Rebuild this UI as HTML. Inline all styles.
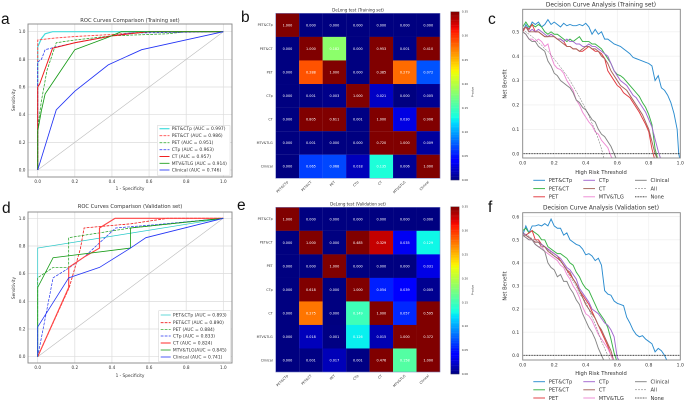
<!DOCTYPE html>
<html lang="en">
<head>
<meta charset="utf-8">
<title>ROC, DeLong and Decision Curve Analysis</title>
<style>
html,body{margin:0;padding:0;background:#fff;}
body{width:685px;height:401px;overflow:hidden;}
svg{display:block;filter:blur(0.38px);font-family:"DejaVu Sans","Liberation Sans",sans-serif;}
text{fill:#333;}
.letter{font-family:"Liberation Sans",sans-serif;font-size:15.5px;fill:#111;}
.roc-title{font-size:5.2px;text-anchor:middle;}
.roc-lab{font-size:4.25px;text-anchor:middle;}
.hm-title{font-size:4px;text-anchor:middle;}
.dca-title{font-size:5.85px;text-anchor:middle;}
.dca-lab{font-size:5.2px;text-anchor:middle;}
</style>
</head>
<body>
<svg id="fig" xmlns="http://www.w3.org/2000/svg" width="685" height="401" viewBox="0 0 685 401">
<rect width="685" height="401" fill="#fff"/>
<text class="letter" x="1" y="24">a</text>
<text class="letter" x="241" y="22">b</text>
<text class="letter" x="488" y="24">c</text>
<text class="letter" x="2" y="213">d</text>
<text class="letter" x="237" y="210">e</text>
<text class="letter" x="488" y="212">f</text>

<text class="roc-title" x="130" y="22">ROC Curves Comparison (Training set)</text>
<text class="roc-lab" x="130" y="190">1 - Specificity</text>
<text class="roc-lab" transform="translate(15,100) rotate(-90)">Sensitivity</text>

<text class="roc-title" x="130" y="208">ROC Curves Comparison (Validation set)</text>
<text class="roc-lab" x="130" y="377">1 - Specificity</text>
<text class="roc-lab" transform="translate(15,288) rotate(-90)">Sensitivity</text>

<text class="hm-title" x="358" y="11.5">DeLong test (Training set)</text>
<text class="hm-title" x="358" y="205.5">DeLong test (Validation set)</text>
<text font-size="2.8" text-anchor="middle" transform="translate(473.5,92) rotate(-90)">P-value</text>
<text font-size="2.8" text-anchor="middle" transform="translate(473.5,290) rotate(-90)">P-value</text>

<text class="dca-title" x="601" y="6.5">Decision Curve Analysis (Training set)</text>
<text class="dca-lab" x="601" y="174">High Risk Threshold</text>
<text class="dca-lab" transform="translate(506.5,84) rotate(-90)">Net Benefit</text>

<text class="dca-title" x="601" y="209.5">Decision Curve Analysis (Validation set)</text>
<text class="dca-lab" x="601" y="375">High Risk Threshold</text>
<text class="dca-lab" transform="translate(506.5,286) rotate(-90)">Net Benefit</text>
</svg>

<script>
/* ---------- shared labels and ticks ---------- */
const models = ["PET&CTp","PET&CT","PET","CTp","CT","MTV&TLG","Clinical"];
const rocTicks = [0,0.2,0.4,0.6,0.8,1.0];
const dcaXTicks = [0,0.2,0.4,0.6,0.8,1.0];
const dcaTrainYTicks = [0,0.1,0.2,0.3,0.4,0.5];
const dcaValYTicks = [0,0.1,0.2,0.3,0.4,0.5,0.6];
const colorbarTicks = [0,0.05,0.10,0.15,0.20,0.25,0.30,0.35];

/* ---------- ROC values: training ---------- */
const rocTrainAuc = ["0.997","0.986","0.951","0.963","0.957","0.914","0.746"];
const rtPetCtpX = [0,0,0.02,0.04,0.08,1];
const rtPetCtpY = [0,0.89,0.95,0.985,1,1];
const rtPetCtX = [0,0,0.1,0.2,0.4,0.6,1];
const rtPetCtY = [0,0.94,0.955,0.965,0.98,1,1];
const rtPetX = [0,0,0.02,0.05,0.1,0.2,0.4,0.7,0.8,1];
const rtPetY = [0,0.3,0.5,0.72,0.92,0.94,0.97,0.985,1,1];
const rtCtpX = [0,0,0.02,0.04,0.1,0.2,0.4,0.5,1];
const rtCtpY = [0,0.78,0.8,0.87,0.89,0.92,0.97,0.99,1];
const rtCtX = [0,0,0.01,0.08,0.2,0.4,0.6,1];
const rtCtY = [0,0.6,0.62,0.88,0.92,0.97,1,1];
const rtMtvX = [0,0,0.02,0.04,0.1,0.2,0.38,0.45,1];
const rtMtvY = [0,0.28,0.43,0.55,0.67,0.87,0.96,1,1];
const rtClinX = [0,0.1,0.2,0.38,0.56,1];
const rtClinY = [0,0.435,0.57,0.76,0.87,1];

/* ---------- ROC values: validation ---------- */
const rocValAuc = ["0.893","0.890","0.884","0.833","0.824","0.845","0.741"];
const rvPetCtpX = [0,0,1];
const rvPetCtpY = [0,0.785,1];
const rvPetCtX = [0,0.17,0.23,0.25,0.33,0.5,0.7,1];
const rvPetCtY = [0,0.5,0.78,0.93,0.94,0.96,1,1];
const rvPetX = [0,0,0.083,0.167,0.167,0.5,1];
const rvPetY = [0,0.57,0.645,0.645,0.86,0.93,1];
const rvCtpX = [0,0.083,0.167,0.25,0.42,0.6,1];
const rvCtpY = [0,0.57,0.64,0.72,0.93,0.95,1];
const rvCtX = [0,0.167,0.167,0.25,0.333,0.333,0.417,1];
const rvCtY = [0,0.5,0.645,0.72,0.785,0.93,1,1];
const rvMtvX = [0,0,0.083,0.5,0.5,1];
const rvMtvY = [0,0.5,0.715,0.785,0.93,1];
const rvClinX = [0,0,0.167,0.333,0.5,0.583,1];
const rvClinY = [0,0.215,0.57,0.645,0.785,0.86,1];

/* ---------- DeLong p-values ---------- */
const delongTrain = [
 [1.000,0.000,0.000,0.000,0.000,0.000,0.000],
 [0.000,1.000,0.182,0.000,0.953,0.001,0.410],
 [0.000,0.288,1.000,0.000,0.385,0.279,0.072],
 [0.000,0.001,0.003,1.000,0.021,0.000,0.005],
 [0.000,0.805,0.611,0.001,1.000,0.030,0.906],
 [0.000,0.001,0.000,0.000,0.720,1.000,0.009],
 [0.000,0.065,0.068,0.018,0.135,0.006,1.000]];
const delongVal = [
 [1.000,0.000,0.000,0.000,0.000,0.000,0.000],
 [0.000,1.000,0.000,0.485,0.329,0.035,0.129],
 [0.000,0.000,1.000,0.000,0.000,0.000,0.031],
 [0.000,0.618,0.000,1.000,0.054,0.039,0.005],
 [0.000,0.275,0.000,0.149,1.000,0.057,0.595],
 [0.000,0.018,0.001,0.126,0.015,1.000,0.372],
 [0.000,0.001,0.017,0.001,0.476,0.158,1.000]];

/* ---------- decision curves: thresholds step 0.02 ---------- */
const thresholds = [0,.02,.04,.06,.08,.10,.12,.14,.16,.18,.20,.22,.24,.26,.28,.30,.32,.34,.36,.38,.40,.42,.44,.46,.48,.50,.52,.54,.56,.58,.60,.62,.64,.66,.68,.70,.72,.74,.76,.78,.80,.82,.84,.86,.88,.90,.92,.94,.96,.98,.99,1.0];

const dtPetCtp = [.50,.53,.51,.54,.53,.54,.52,.53,.55,.53,.54,.53,.52,.535,.525,.53,.525,.525,.53,.525,.535,.52,.49,.51,.49,.50,.47,.47,.46,.45,.445,.44,.43,.42,.41,.395,.39,.385,.38,.375,.37,.36,.30,.32,.27,.26,.24,.21,.165,.10,0,-.03];
const dtPetCt = [.52,.54,.52,.53,.52,.53,.52,.50,.49,.50,.49,.49,.48,.47,.46,.47,.46,.47,.48,.46,.46,.46,.45,.45,.44,.43,.41,.39,.37,.34,.325,.32,.31,.295,.28,.265,.25,.235,.21,.19,.16,.12,.02,-.03];
const dtPet = [.50,.52,.51,.53,.50,.50,.49,.48,.48,.49,.48,.47,.47,.46,.44,.44,.43,.43,.42,.42,.43,.44,.43,.42,.42,.41,.39,.34,.32,.30,.28,.27,.25,.24,.23,.21,.19,.17,.145,.12,.09,.02,-.03];
const dtCtp = [.51,.52,.50,.51,.50,.51,.50,.49,.48,.49,.48,.47,.47,.46,.47,.46,.46,.45,.45,.44,.44,.45,.44,.44,.43,.42,.41,.40,.37,.34,.32,.30,.29,.28,.26,.24,.23,.21,.19,.17,.14,.11,.06,.01,-.03];
const dtCt = [.51,.52,.50,.50,.50,.50,.49,.48,.48,.48,.48,.47,.46,.45,.44,.44,.43,.43,.42,.43,.44,.44,.43,.43,.42,.40,.39,.37,.34,.32,.30,.28,.27,.26,.24,.22,.20,.18,.16,.13,.10,.05,0,-.03];
const dtMtv = [.50,.49,.47,.47,.46,.47,.46,.44,.45,.40,.365,.35,.345,.33,.30,.28,.26,.22,.20,.17,.15,.13,.115,.09,.08,.055,.04,.025,-.01,-.03];
const dtClin = [.50,.49,.47,.46,.46,.44,.43,.42,.38,.36,.33,.32,.30,.29,.28,.27,.25,.22,.21,.19,.18,.16,.14,.13,.10,.08,.07,.05,.03,0,-.03];
const dtAll = [.51,.50,.49,.48,.47,.456,.445,.43,.42,.405,.388,.372,.355,.338,.32,.30,.278,.255,.232,.208,.183,.155,.125,.095,.06,.02,-.03];
const dtNone = [0,0,0,0,0,0,0,0,0,0,0,0,0,0,0,0,0,0,0,0,0,0,0,0,0,0,0,0,0,0,0,0,0,0,0,0,0,0,0,0,0,0,0,0,0,0,0,0,0,0,0,0];

const dvPetCtp = [.52,.56,.53,.56,.56,.565,.56,.57,.56,.59,.56,.55,.55,.52,.53,.50,.49,.48,.475,.46,.435,.44,.43,.41,.42,.39,.28,.265,.26,.235,.225,.22,.215,.165,.14,.11,.09,.08,.085,.07,.06,.05,.015,.03,.02,0,-.03];
const dvPetCt = [.54,.55,.53,.54,.53,.52,.50,.50,.47,.46,.45,.44,.44,.43,.42,.40,.39,.36,.34,.31,.29,.28,.25,.22,.19,.17,.15,.12,.07,.01,-.03];
const dvPet = [.53,.52,.53,.54,.50,.50,.48,.47,.46,.45,.44,.43,.41,.39,.37,.35,.33,.31,.28,.26,.24,.22,.19,.16,.13,.10,.07,.04,0,-.03];
const dvCtp = [.53,.52,.51,.50,.49,.49,.48,.47,.46,.45,.44,.43,.42,.40,.38,.37,.35,.33,.29,.27,.25,.23,.20,.19,.18,.16,.14,.13,.11,.08,-.01,-.03];
const dvCt = [.52,.52,.51,.50,.49,.49,.47,.47,.45,.44,.43,.42,.41,.39,.37,.36,.33,.31,.28,.25,.22,.20,.18,.16,.13,.11,.08,.05,.02,-.03];
const dvMtv = [.52,.51,.50,.50,.48,.47,.47,.45,.44,.43,.42,.41,.39,.38,.35,.33,.30,.28,.25,.21,.18,.17,.15,.12,.09,.07,.05,.03,0,-.03];
const dvClin = [.52,.51,.50,.50,.48,.47,.46,.45,.40,.38,.37,.34,.35,.32,.32,.29,.27,.24,.22,.18,.15,.12,.10,.07,.03,0,-.03];
const dvAll = [.53,.525,.515,.505,.50,.49,.48,.47,.455,.445,.43,.42,.405,.39,.365,.34,.32,.30,.265,.25,.23,.20,.165,.135,.10,.06,.03,0,-.03];
const dvNone = [0,0,0,0,0,0,0,0,0,0,0,0,0,0,0,0,0,0,0,0,0,0,0,0,0,0,0,0,0,0,0,0,0,0,0,0,0,0,0,0,0,0,0,0,0,0,0,0,0,0,0,0];

/* ---------- drawing ---------- */
const NS = "http://www.w3.org/2000/svg";
const fig = document.getElementById("fig");
function mk(tag, parent, props){
  const e = document.createElementNS(NS, tag);
  for (const k in props) e.setAttribute(k, props[k]);
  parent.appendChild(e);
  return e;
}
function label(parent, str, props){
  const e = mk("text", parent, props);
  e.textContent = str;
  return e;
}
function lut(pts, v){
  for (let i = 1; i < pts.length; i++){
    if (v <= pts[i][0]){
      const a = pts[i-1], b = pts[i];
      return a[1] + (b[1] - a[1]) * (v - a[0]) / (b[0] - a[0]);
    }
  }
  return pts[pts.length-1][1];
}
function jet(v){
  const r = lut([[0,0],[.35,0],[.66,1],[.89,1],[1,.5]], v);
  const g = lut([[0,0],[.125,0],[.375,1],[.64,1],[.91,0],[1,0]], v);
  const b = lut([[0,.5],[.11,1],[.34,1],[.65,0],[1,0]], v);
  return "rgb(" + Math.round(r*255) + "," + Math.round(g*255) + "," + Math.round(b*255) + ")";
}
function pathFrom(xs, ys, sx, sy){
  return xs.map((x,i) => (i ? "L" : "M") + sx(x).toFixed(2) + " " + sy(ys[i]).toFixed(2)).join(" ");
}

/* ROC panel */
function drawRoc(name, box, y0px, y1px, series, auc, leg){
  const g = mk("g", fig, {});
  
  
  const sx = v => 37.7 + v * (223.3 - 37.7);
  const sy = v => y0px + v * (y1px - y0px);
  rocTicks.forEach(t => {
    const gx = mk("line", g, {x1:sx(t),x2:sx(t),y1:box.t,y2:box.b,stroke:"#dcdcdc","stroke-width":0.7});
    
    
    const gy = mk("line", g, {x1:box.l,x2:box.r,y1:sy(t),y2:sy(t),stroke:"#dcdcdc","stroke-width":0.7});
    
    
    const tx = label(g, t.toFixed(1), {x:sx(t),y:box.b+6,"font-size":4.2,"text-anchor":"middle"});
    
    
    const ty = label(g, t.toFixed(1), {x:box.l-2.6,y:sy(t)+1.5,"font-size":4.2,"text-anchor":"end"});
    
    
  });
  const diag = mk("line", g, {x1:sx(0),y1:sy(0),x2:sx(1),y2:sy(1),stroke:"#bcbcbc","stroke-width":0.6});
  
  
  series.forEach(s => {
    const p = mk("path", g, {d:pathFrom(s.x,s.y,sx,sy),fill:"none",stroke:s.c,"stroke-width":s.w,"stroke-dasharray":s.dash?"2.8 1.2":"none"});
    
    
  });
  const frame = mk("rect", g, {x:box.l,y:box.t,width:box.r-box.l,height:box.b-box.t,fill:"none",stroke:"#858585","stroke-width":0.9});
  
  
  const lg = mk("g", g, {});
  
  
  mk("rect", lg, {x:leg.x,y:leg.t,width:leg.w,height:leg.h,fill:"#fff",stroke:"#d0d0d0","stroke-width":0.5});
  series.forEach((s,i) => {
    const ly = leg.ys[i];
    const sw = mk("line", lg, {x1:leg.lx,x2:leg.lx+10,y1:ly,y2:ly,stroke:s.c,"stroke-width":s.w,"stroke-dasharray":s.dash?"2.8 1.2":"none"});
    
    
    const txt = label(lg, models[i] + (s.sep === undefined ? " " : s.sep) + "(AUC = " + auc[i] + ")", {x:leg.lx+12.2,y:ly+1.5,"font-size":4.45});
    
    
  });
}

drawRoc("roc-training-chart", {l:28,r:232,t:24,b:177}, 170, 31.7, [
  {id:"petctp",x:rtPetCtpX,y:rtPetCtpY,c:"#45dcdc",w:1.2},
  {id:"petct",x:rtPetCtX,y:rtPetCtY,c:"#ff4a4a",w:0.95,dash:1},
  {id:"pet",x:rtPetX,y:rtPetY,c:"#22a022",w:0.75,dash:1},
  {id:"ctp",x:rtCtpX,y:rtCtpY,c:"#2233f0",w:0.75,dash:1},
  {id:"ct",x:rtCtX,y:rtCtY,c:"#f01818",w:0.95},
  {id:"mtv",x:rtMtvX,y:rtMtvY,c:"#159a15",w:0.85},
  {id:"clinical",x:rtClinX,y:rtClinY,c:"#2233f5",w:0.85}
], rocTrainAuc, {x:157.3,t:125.7,w:72.7,h:49.5,lx:159.5,ys:[128.7,135.7,142.7,149.7,156.5,163.3,170]});

drawRoc("roc-validation-chart", {l:28,r:232,t:212,b:363}, 356.7, 218.3, [
  {id:"petctp",x:rvPetCtpX,y:rvPetCtpY,c:"#25c8c8",w:0.7},
  {id:"petct",x:rvPetCtX,y:rvPetCtY,c:"#f01818",w:0.8,dash:1},
  {id:"pet",x:rvPetX,y:rvPetY,c:"#159a15",w:0.7,dash:1},
  {id:"ctp",x:rvCtpX,y:rvCtpY,c:"#2233f0",w:0.7,dash:1},
  {id:"ct",x:rvCtX,y:rvCtY,c:"#ff4444",w:1.15},
  {id:"mtv",x:rvMtvX,y:rvMtvY,c:"#159a15",w:0.8,sep:""},
  {id:"clinical",x:rvClinX,y:rvClinY,c:"#2233f5",w:0.8}
], rocValAuc, {x:158.7,t:310.7,w:72,h:51,lx:160.7,ys:[315,322.7,329.3,336,343,350,357]});

/* Heatmap panel */
function drawHeat(name, box, matrix, vmax, cb){
  const g = mk("g", fig, {});
  
  
  const cw = (box.r - box.l) / models.length;
  const ch = (box.b - box.t) / models.length;
  const cx = i => box.l + i * cw;
  const cy = i => box.t + i * ch;
  matrix.forEach((row,r) => row.forEach((v,c) => {
    const cell = mk("rect", g, {x:cx(c),y:cy(r),width:cw+0.1,height:ch+0.1,fill:jet(Math.min(1,v/vmax))});
    
    
    const val = mk("text", g, {x:cx(c)+cw/2,y:cy(r)+ch/2+1.2,"font-size":3.4,"text-anchor":"middle",style:"fill:#fff"});
    val.textContent = v.toFixed(3);
    
    
  }));
  const frame = mk("rect", g, {x:box.l,y:box.t,width:box.r-box.l,height:box.b-box.t,fill:"none",stroke:"#7d86c9","stroke-width":0.5});
  
  
  models.forEach((m,i) => {
    const yl = label(g, m, {x:box.l-3,y:cy(i)+ch/2+1.1,"font-size":3.3,"text-anchor":"end"});
    
    
    const px = cx(i)+cw/2, py = box.b+3;
    const xl = label(g, m, {x:px+1,y:py+1,"font-size":3.3,"text-anchor":"end",transform:"rotate(-45 "+(px+1)+" "+(py+1)+")"});
    
    
  });
  /* colorbar */
  const cg = mk("g", fig, {});
  
  
  const steps = 100;
  const sc = v => cb.b - (v / vmax) * (cb.b - cb.t);
  for (let k = 0; k < steps; k++){
    const a = vmax * k / steps, b = vmax * (k + 1) / steps;
    mk("rect", cg, {x:450.7,y:sc(b),width:8.6,height:sc(a)-sc(b)+0.2,fill:jet((k+0.5)/steps)});
  }
  mk("rect", cg, {x:450.7,y:cb.t,width:8.6,height:cb.b-cb.t,fill:"none",stroke:"#555","stroke-width":0.3});
  colorbarTicks.forEach(t => {
    const tk = label(cg, t.toFixed(2), {x:461.7,y:sc(t)+1,"font-size":2.9});
    
    
  });
}
drawHeat("delong-training-heatmap", {l:275.7,r:440,t:13.3,b:178.3}, delongTrain, 0.35, {t:11.7,b:180});
drawHeat("delong-validation-heatmap", {l:275.7,r:440,t:207.3,b:372}, delongVal, 0.35, {t:206.7,b:374});

/* Decision curve panel */
const dcaStyle = [
  {id:"petctp",n:"PET&CTp",c:"#2b8ccf",w:0.95},
  {id:"petct",n:"PET&CT",c:"#38b245",w:0.95},
  {id:"pet",n:"PET",c:"#e23a40",w:0.95},
  {id:"ctp",n:"CTp",c:"#a268d0",w:0.95},
  {id:"ct",n:"CT",c:"#a5645a",w:0.95},
  {id:"mtv",n:"MTV&TLG",c:"#ee8ad4",w:0.95},
  {id:"clinical",n:"Clinical",c:"#858585",w:0.95},
  {id:"all",n:"All",c:"#666",w:0.5,dash:"2 1"},
  {id:"none",n:"None",c:"#111",w:0.8,dash:"0.9 0.7"}
];
function drawDca(name, clipId, box, y0px, pxPerUnit, yTicks, curves, legYs){
  const g = mk("g", fig, {});
  
  
  const sx = v => box.l + v * (box.r - box.l);
  const sy = v => y0px - v * pxPerUnit;
  const clip = mk("clipPath", g, {id:clipId});
  mk("rect", clip, {x:box.l,y:box.t,width:box.r-box.l,height:box.b-box.t});
  dcaXTicks.forEach(t => {
    const gx = mk("line", g, {x1:sx(t),x2:sx(t),y1:box.t,y2:box.b,stroke:"#ececec","stroke-width":0.6});
    
    
    const tx = label(g, t.toFixed(1), {x:sx(t),y:box.b+6.6,"font-size":4.55,"text-anchor":"middle"});
    
    
  });
  yTicks.forEach(t => {
    const gy = mk("line", g, {x1:box.l,x2:box.r,y1:sy(t),y2:sy(t),stroke:"#ececec","stroke-width":0.6});
    
    
    const ty = label(g, t.toFixed(1), {x:box.l-3.4,y:sy(t)+1.6,"font-size":4.55,"text-anchor":"end"});
    
    
  });
  curves.forEach((vals,i) => {
    const s = dcaStyle[i];
    const xs = vals.map((_,k) => thresholds[k]);
    const p = mk("path", g, {d:pathFrom(xs,vals,sx,sy),fill:"none",stroke:s.c,"stroke-width":s.w,"stroke-dasharray":s.dash||"none","clip-path":"url(#"+clipId+")"});
    
    
  });
  const frame = mk("rect", g, {x:box.l,y:box.t,width:box.r-box.l,height:box.b-box.t,fill:"none",stroke:"#858585","stroke-width":0.9});
  
  
  const lg = mk("g", g, {});
  
  
  const colX = [533.3, 583.3, 635];
  dcaStyle.forEach((s,i) => {
    const col = Math.floor(i/3), row = i%3;
    const ly = legYs[row], lx = colX[col];
    const sw = mk("line", lg, {x1:lx,x2:lx+11.7,y1:ly,y2:ly,stroke:s.c,"stroke-width":s.w,"stroke-dasharray":s.dash||"none"});
    
    
    const txt = label(lg, s.n, {x:lx+15.5,y:ly+1.8,"font-size":5.15});
    
    
  });
}
drawDca("dca-training-chart", "clip-c", {l:522.7,r:680.3,t:9.3,b:158}, 153.7, 243.8, dcaTrainYTicks,
  [dtPetCtp,dtPetCt,dtPet,dtCtp,dtCt,dtMtv,dtClin,dtAll,dtNone], [180.3,188.6,196.8]);
drawDca("dca-validation-chart", "clip-f", {l:522.7,r:680.3,t:212.7,b:360}, 355.3, 231, dcaValYTicks,
  [dvPetCtp,dvPetCt,dvPet,dvCtp,dvCt,dvMtv,dvClin,dvAll,dvNone], [381.7,389.8,398]);
</script>
</body>
</html>
